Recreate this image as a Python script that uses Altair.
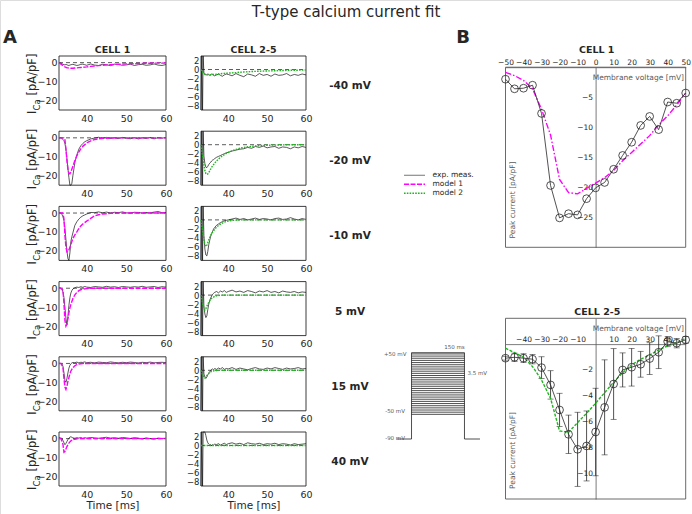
import altair as alt
import pandas as pd

W, H = 692, 514
FONT = "DejaVu Sans"
INK = "#262626"
SOFT = "#595959"
EXP_COLOR = "#111111"
M1_COLOR = "#ff00ff"
M2_COLOR = "#1fb51f"

# ---------------------------------------------------------------- data
STEPS = ["-40 mV", "-20 mV", "-10 mV", "5 mV", "15 mV", "40 mV"]

# sampling times (ms)
EXP_T = [33, 33.5, 33.75, 34, 34.25, 34.5, 34.75, 35, 35.25, 35.5,
         35.75, 36, 36.25, 36.5, 37, 37.5, 38, 38.5, 39, 39.5,
         40, 41, 42, 43, 44, 45, 46, 47, 48, 49,
         50, 51, 52, 53, 54, 55, 56, 57, 58, 59, 60]
C25_T = [33, 33.2, 33.4, 33.55, 33.75, 34, 34.25, 34.5, 34.75, 35, 35.25,
         35.5, 35.75, 36, 36.25, 36.5, 37, 37.5, 38, 38.5, 39,
         39.5, 40, 41, 42, 43, 44, 45, 46, 47, 48,
         49, 50, 51, 52, 53, 54, 55, 56, 57, 58, 59, 60]
MOD_T = [33, 33.5, 34, 34.25, 34.5, 34.75, 35, 35.25, 35.5, 35.75,
         36, 36.5, 37, 37.5, 38, 38.5, 39, 40, 41, 42,
         43, 44, 46, 48, 50, 55, 60]

# CELL 1: recorded current (pA/pF), one list per voltage step
cell1_exp = [
    [0, -0.3, -0.6, -0.9, -1.1, -1.2, -1.0, -1.1, -1.4, -1.5,
     -1.3, -1.1, -1.0, -0.9, -1.2, -1.5, -1.3, -0.9, -0.8, -1.1,
     -1.4, -0.7, -1.3, -1.5, -0.9, -1.1, -1.6, -0.8, -1.0, -1.4,
     -1.2, -0.8, -1.5, -1.1, -0.9, -1.4, -1.2, -0.7, -1.3, -1.5, -1.0],
    [0, 0, -0.3, -0.8, -1.5, -3.0, -6.0, -11.0, -16.0, -21.0,
     -25.0, -26.5, -24.0, -20.0, -13.0, -9.0, -6.0, -4.2, -3.0, -2.1,
     -1.5, -0.6, -0.1, 0.3, -0.2, 0.2, -0.3, 0.1, -0.4, 0.2,
     -0.2, -0.5, 0.1, -0.6, 0.0, -0.3, 0.2, -0.5, 0.1, -0.2, 0.2],
    [0.2, 0.0, -0.8, -2.0, -4.0, -8.0, -14.0, -20.0, -24.0, -25.5,
     -21.0, -15.0, -12.5, -10.5, -6.5, -4.6, -3.2, -2.2, -1.5, -1.0,
     -0.5, 0.3, 0.2, 0.6, 0.1, 0.5, 0.0, 0.4, 0.2, 0.6,
     0.1, 0.0, 0.4, 0.3, 0.0, 0.3, 0.1, 0.5, 0.8, 0.2, 0.3],
    [0.2, 0.0, -0.5, -2.0, -5.0, -10.0, -16.0, -19.3, -15.0, -9.0,
     -5.0, -2.5, -1.2, -0.4, 0.3, 0.6, 0.4, 0.8, 0.5, 0.9,
     0.6, 0.4, 0.9, 0.7, 0.5, 1.0, 0.6, 0.8, 0.4, 0.9,
     0.7, 0.5, 0.8, 0.6, 1.0, 0.5, 0.7, 0.9, 0.4, 0.8, 0.6],
    [0.0, 0.0, -0.3, -1.5, -5.0, -9.0, -10.0, -8.0, -5.0, -2.5,
     -1.0, -0.2, 0.3, 0.5, 0.4, 0.7, 0.3, 0.6, 0.5, 0.8,
     0.4, 0.6, 0.3, 0.7, 0.5, 0.4, 0.8, 0.5, 0.3, 0.6,
     0.4, 0.7, 0.5, 0.2, 0.6, 0.4, 0.7, 0.3, 0.5, 0.6, 0.4],
    [0.5, 0.3, 0.1, -1.0, -2.2, -3.2, -2.5, -1.5, -0.5, 0.3,
     0.8, 1.0, 0.7, 0.4, 0.2, 0.5, 0.3, 0.6, 0.2, 0.5,
     0.3, 0.6, 0.4, 0.2, 0.5, 0.7, 0.3, 0.5, 0.2, 0.6,
     0.4, 0.1, 0.5, 0.3, -0.2, 0.4, 0.0, -0.3, 0.3, 0.1, 0.2],
]

# CELL 1: model 1 current
cell1_model1 = [
    [0, -0.8, -1.6, -2.0, -2.3, -2.5, -2.7, -2.8, -2.9, -2.95,
     -3.0, -2.95, -2.85, -2.75, -2.65, -2.55, -2.45, -2.25, -2.0, -1.8,
     -1.6, -1.4, -1.1, -0.85, -0.65, -0.35, -0.2],
    [0, 0, 0, 0, -1.0, -6.0, -12.0, -16.5, -18.8, -19.0,
     -18.0, -15.0, -12.0, -9.5, -7.5, -5.8, -4.5, -2.7, -1.6, -0.9,
     -0.5, -0.3, -0.1, 0, 0, 0, 0],
    [0, 0, 0, -3.0, -12.0, -18.0, -20.5, -20.3, -19.5, -18.0,
     -16.5, -13.5, -11.5, -10.0, -8.3, -6.8, -5.8, -4.3, -2.8, -1.5,
     -0.9, -0.5, -0.2, -0.05, 0, 0, 0],
    [0, 0, -1.0, -8.0, -17.0, -20.0, -19.0, -16.0, -13.0, -10.5,
     -8.5, -5.5, -3.5, -2.2, -1.3, -0.8, -0.5, -0.2, -0.05, 0,
     0, 0, 0, 0, 0, 0, 0],
    [0, 0, -2.0, -8.0, -12.5, -13.7, -12.0, -9.5, -7.5, -5.5,
     -4.0, -2.2, -1.2, -0.6, -0.3, -0.15, -0.05, 0, 0, 0,
     0, 0, 0, 0, 0, 0, 0],
    [0, 0, -3.0, -7.2, -6.8, -5.5, -4.2, -3.2, -2.4, -1.7,
     -1.2, -0.6, -0.3, -0.1, 0, 0, 0, 0, 0, 0,
     0, 0, 0, 0, 0, 0, 0],
]

# CELL 2-5: averaged recorded current (starts with the capacitive artefact)
cell25_exp = [
    [-20, 20, -20, 20, -0.8, -1.0, -1.1, -1.2, -1.0, -1.1, -1.3,
     -1.2, -1.0, -1.1, -1.3, -1.4, -1.2, -1.0, -1.3, -1.5, -1.2,
     -1.0, -1.1, -1.4, -0.9, -1.3, -1.6, -1.0, -1.2, -1.5, -0.9,
     -1.3, -1.1, -1.5, -1.0, -1.3, -1.2, -0.9, -1.4, -1.1, -1.3, -1.0, -1.2],
    [-20, 20, -20, 20, -2.5, -4.2, -5.0, -5.1, -4.8, -4.4, -4.1,
     -3.9, -3.6, -3.4, -3.3, -3.1, -2.8, -2.6, -2.4, -2.2, -2.0,
     -1.8, -1.7, -1.4, -1.2, -1.0, -0.9, -0.6, -0.8, -0.4, -0.6,
     -0.3, -0.7, -0.5, -0.4, -0.8, -0.5, -0.6, -0.9, -0.5, -0.7, -0.4, -0.6],
    [-20, 20, -20, 20, -3.5, -6.5, -7.8, -8.0, -7.0, -5.5, -4.5,
     -3.6, -3.0, -2.5, -2.0, -1.7, -1.2, -0.9, -0.6, -0.4, -0.2,
     -0.1, 0.0, 0.2, 0.4, 0.1, 0.3, 0.0, 0.2, 0.4, 0.1,
     0.3, 0.2, 0.0, 0.3, 0.4, 0.1, 0.2, 0.5, 0.2, 0.0, 0.3, 0.1],
    [-20, 20, -20, 20, -2.5, -4.2, -5.0, -4.6, -3.2, -2.0, -1.2,
     -0.6, -0.2, 0.2, 0.4, 0.6, 0.8, 0.5, 0.9, 0.7, 1.0,
     0.6, 0.8, 1.1, 0.7, 0.9, 0.6, 1.0, 0.8, 0.5, 0.9,
     0.7, 1.0, 0.6, 0.8, 0.5, 0.9, 0.7, 0.6, 0.8, 0.5, 0.7, 0.6],
    [-20, 20, -20, 20, -0.8, -1.5, -1.8, -1.5, -1.0, -0.6, -0.3,
     0.0, 0.2, 0.3, 0.1, 0.4, 0.2, 0.5, 0.3, 0.6, 0.2,
     0.4, 0.3, 0.6, 0.2, 0.5, 0.3, 0.1, 0.4, 0.6, 0.3,
     0.2, 0.5, 0.3, 0.6, 0.4, 0.2, 0.5, 0.3, 0.4, 0.6, 0.3, 0.4],
    [-20, 20, -20, 20, 4.5, 3.2, 2.2, 1.2, 0.6, 0.3, 0.1,
     0.2, 0.0, 0.2, 0.1, 0.3, 0.2, 0.4, 0.1, 0.3, 0.5,
     0.2, 0.4, 0.6, 0.3, 0.5, 0.2, 0.6, 0.4, 0.3, 0.5,
     0.2, 0.4, 0.3, 0.5, 0.2, 0.4, 0.3, 0.1, 0.4, 0.2, 0.3, 0.4],
]

# CELL 2-5: model 2 current
cell25_model2 = [
    [0, -0.7, -1.1, -1.2, -1.2, -1.2, -1.2, -1.2, -1.15, -1.15,
     -1.1, -1.1, -1.05, -1.0, -0.95, -0.9, -0.85, -0.8, -0.75, -0.7,
     -0.6, -0.55, -0.45, -0.38, -0.32, -0.2, -0.12],
    [0, -3.0, -5.8, -6.4, -6.6, -6.5, -6.2, -5.8, -5.4, -5.0,
     -4.7, -4.1, -3.6, -3.2, -2.8, -2.5, -2.2, -1.7, -1.35, -1.05,
     -0.8, -0.6, -0.35, -0.2, -0.12, -0.03, 0],
    [0, -3.0, -5.6, -5.9, -5.6, -5.0, -4.4, -3.9, -3.4, -3.0,
     -2.7, -2.1, -1.6, -1.25, -0.95, -0.7, -0.5, -0.25, -0.12, -0.05,
     0, 0, 0, 0, 0, 0, 0],
    [0, -2.2, -3.3, -3.0, -2.5, -2.0, -1.6, -1.25, -0.95, -0.7,
     -0.55, -0.3, -0.15, -0.08, -0.03, 0, 0, 0, 0, 0,
     0, 0, 0, 0, 0, 0, 0],
    [0, -1.2, -1.7, -1.5, -1.2, -0.9, -0.7, -0.5, -0.35, -0.25,
     -0.18, -0.08, -0.03, 0, 0, 0, 0, 0, 0, 0,
     0, 0, 0, 0, 0, 0, 0],
    [0, 0, 0, 0, 0, 0, 0, 0, 0, 0,
     0, 0, 0, 0, 0, 0, 0, 0, 0, 0,
     0, 0, 0, 0, 0, 0, 0],
]

# B: peak current-voltage relations
iv_v = [-50, -45, -40, -35, -30, -25, -20, -15, -10, -5, 0,
        5, 10, 15, 20, 25, 30, 35, 40, 45, 50]
iv_cell1_exp = [-2.0, -3.6, -3.5, -3.0, -7.7, -19.7, -25.1, -24.4, -24.6, -21.9, -20.1,
                -19.2, -17.0, -14.7, -12.5, -9.7, -8.2, -10.4, -5.8, -6.0, -4.3]
iv_cell1_model1 = [-0.85, -1.4, -2.2, -3.6, -7.0, -11.3, -18.7, -20.9, -21.1, -20.2, -19.3,
                   -18.4, -17.2, -15.6, -14.2, -12.8, -11.4, -9.6, -8.1, -6.3, -4.3]
iv_cell25_exp = [-1.09, -1.02, -1.09, -1.17, -1.82, -3.16, -5.1, -6.99, -8.15, -7.89, -6.81,
                 -4.9, -3.09, -2.0, -1.79, -1.56, -1.12, -0.63, 0.19, 0.07, 0.33]
iv_cell25_sd = [0.15, 0.32, 0.34, 0.36, 0.84, 1.1, 1.29, 1.49, 2.87, 2.71, 3.39,
                3.68, 2.74, 1.32, 1.46, 1.0, 1.23, 1.27, 0.39, 0.36, 0.26]
iv_cell25_model2 = [-0.32, -0.66, -1.02, -1.74, -2.78, -4.2, -6.73, -6.83, -6.08, -5.36, -4.58,
                    -3.76, -2.95, -2.21, -1.61, -1.17, -0.84, -0.45, -0.14, 0.12, 0.46]

# voltage-clamp protocol
stim_levels = [-50, -46.5, -43, -39.5, -36, -32.5, -29, -25.5, -22, -18.5,
               -15, -11.5, -8, -4.5, -1, 2.5, 6, 9.5, 13, 16.5,
               20, 23.5, 27, 30.5, 34, 37.5, 41, 44.5, 48, 50]
stim_hold = -90
stim_on, stim_off = 0, 150

for rows, t in ((cell1_exp, EXP_T), (cell1_model1, MOD_T), (cell25_exp, C25_T), (cell25_model2, MOD_T)):
    for r in rows:
        assert len(r) == len(t), (len(r), len(t))

# ---------------------------------------------------------------- layout
T_DOM = [33, 60]
C1_X = [59, 166]
C25_X = [201, 306]
ROW_TOP = [56, 131.2, 206.4, 281.6, 356.8, 432]
ROW_H = 54
C1_Y = [-25, 3.5]
C25_Y = [-9, 3]
C1_TICKS = [0, -10, -20]
C25_TICKS = [2, 0, -2, -4, -6, -8]

IV_X = [505.5, 685.7]
IV1_Y, IV1_R = [-30, 0], [247.3, 67.2]
IV2_Y, IV2_R = [-12, 2], [499.0, 318.3]

ONE = pd.DataFrame({"k": [0]})


def text(s, x, y, size, weight="normal", align="center", baseline="middle",
         angle=0, color=INK):
    kw = dict(x=x, y=y, fontSize=size, fontWeight=weight, align=align,
              baseline=baseline, font=FONT, color=color)
    if angle:
        kw["angle"] = angle
    return alt.Chart(ONE).mark_text(**kw).encode(text=alt.value(s))


def axis(orient, offset, values, size=9, title=None, pad=2, domain=False):
    kw = dict(orient=orient, offset=offset, values=values, ticks=False, grid=False,
              domain=domain, domainColor=SOFT, domainWidth=0.8,
              labelFont=FONT, labelFontSize=size, labelColor=INK,
              labelPadding=pad, labelFlush=False, labelOverlap=False)
    if title:
        kw.update(title=title, titleFont=FONT, titleFontSize=10.5,
                  titleFontWeight="normal", titleColor=INK, titlePadding=2)
    else:
        kw["title"] = None
    return alt.Axis(**kw)


def trace_panel(row, xr, ydom, yticks, ysize, exp_t, exp_i, mod_t, mod_i, mcolor, mdash):
    top = ROW_TOP[row]
    bot = top + ROW_H
    xs = alt.Scale(domain=T_DOM, range=xr, nice=False, zero=False, clamp=True)
    ys = alt.Scale(domain=ydom, range=[bot, top], nice=False, zero=False, clamp=True)
    xa = axis("bottom", bot - H, [40, 50, 60], size=9.5, pad=3,
              title="Time [ms]" if row == len(ROW_TOP) - 1 else None)
    ya = axis("left", -xr[0], yticks, size=ysize)

    def enc(chart, tf="t", yf="i"):
        return chart.encode(x=alt.X(f"{tf}:Q", scale=xs, axis=xa),
                            y=alt.Y(f"{yf}:Q", scale=ys, axis=ya))

    frame = alt.Chart(pd.DataFrame({"t": [T_DOM[0]], "t2": [T_DOM[1]],
                                    "i": [ydom[0]], "i2": [ydom[1]]})).mark_rect(
        filled=False, stroke=INK, strokeWidth=0.9)
    frame = enc(frame).encode(x2="t2:Q", y2="i2:Q")
    zero = enc(alt.Chart(pd.DataFrame({"t": T_DOM, "i": [0, 0]})).mark_line(
        color="#333333", strokeWidth=0.8, strokeDash=[4, 3]))
    exp = enc(alt.Chart(pd.DataFrame({"t": exp_t, "i": exp_i})).mark_line(
        color=EXP_COLOR, strokeWidth=0.7))
    mod = enc(alt.Chart(pd.DataFrame({"t": mod_t, "i": mod_i})).mark_line(
        color=mcolor, strokeWidth=1.4, strokeDash=mdash))
    return alt.layer(frame, zero, exp, mod)


def iv_panel(ydom, yr, xticks, yticks, exp_i, mod_i, mcolor, mdash, sd=None):
    xs = alt.Scale(domain=[-50, 50], range=IV_X, nice=False, zero=False)
    ys = alt.Scale(domain=ydom, range=yr, nice=False, zero=False)
    x0 = IV_X[0] + (0 - (-50)) / 100 * (IV_X[1] - IV_X[0])
    y0 = yr[0] + (0 - ydom[0]) / (ydom[1] - ydom[0]) * (yr[1] - yr[0])
    xa = axis("top", -y0, xticks, size=7.5, domain=True, pad=1)
    ya = axis("left", -x0, yticks, size=7.5, domain=True, pad=3)

    def enc(chart, yf="i"):
        return chart.encode(x=alt.X("v:Q", scale=xs, axis=xa),
                            y=alt.Y(f"{yf}:Q", scale=ys, axis=ya))

    frame = alt.Chart(pd.DataFrame({"v": [-50], "v2": [50],
                                    "i": [ydom[0]], "i2": [ydom[1]]})).mark_rect(
        filled=False, stroke=SOFT, strokeWidth=0.9)
    frame = enc(frame).encode(x2="v2:Q", y2="i2:Q")
    df = pd.DataFrame({"v": iv_v, "i": exp_i, "m": mod_i})
    layers = [frame]
    if sd is not None:
        df["lo"] = [a - b for a, b in zip(exp_i, sd)]
        df["hi"] = [a + b for a, b in zip(exp_i, sd)]
        base = alt.Chart(df)
        layers.append(enc(base.mark_rule(color=INK, strokeWidth=0.8), "lo").encode(y2="hi:Q"))
        layers.append(enc(base.mark_tick(orient="horizontal", size=6, thickness=0.8, color=INK), "lo"))
        layers.append(enc(base.mark_tick(orient="horizontal", size=6, thickness=0.8, color=INK), "hi"))
    base = alt.Chart(df)
    layers.append(enc(base.mark_line(color=mcolor, strokeWidth=1.4, strokeDash=mdash), "m"))
    layers.append(enc(base.mark_line(color=INK, strokeWidth=0.8)))
    layers.append(enc(base.mark_point(shape="circle", filled=False, size=60,
                                      color=INK, strokeWidth=0.8, opacity=1)))
    return alt.layer(*layers)


def stimulus():
    xs = alt.Scale(domain=[-42, 194], range=[396.7, 480], nice=False, zero=False)
    ys = alt.Scale(domain=[-90, 50], range=[439.0, 352.7], nice=False, zero=False)
    st = dict(color="#222222", strokeWidth=0.8)
    lv = alt.Chart(pd.DataFrame({"v": stim_levels, "a": stim_on, "b": stim_off})).mark_rule(**st).encode(
        x=alt.X("a:Q", scale=xs, axis=None), x2="b:Q", y=alt.Y("v:Q", scale=ys, axis=None))
    walls = alt.Chart(pd.DataFrame({"t": [stim_on, stim_off], "lo": stim_hold,
                                    "hi": max(stim_levels)})).mark_rule(**st).encode(
        x=alt.X("t:Q", scale=xs, axis=None), y=alt.Y("lo:Q", scale=ys, axis=None), y2="hi:Q")
    hold = alt.Chart(pd.DataFrame({"a": [-42, stim_off], "b": [stim_on, 194],
                                   "v": stim_hold})).mark_rule(**st).encode(
        x=alt.X("a:Q", scale=xs, axis=None), x2="b:Q", y=alt.Y("v:Q", scale=ys, axis=None))
    return alt.layer(lv, walls, hold)


layers = []

# A: traces
for r in range(6):
    layers.append(trace_panel(r, C1_X, C1_Y, C1_TICKS, 9.5, EXP_T, cell1_exp[r],
                              MOD_T, cell1_model1[r], M1_COLOR, [5, 1.5]))
    layers.append(trace_panel(r, C25_X, C25_Y, C25_TICKS, 8.5, C25_T, cell25_exp[r],
                              MOD_T, cell25_model2[r], M2_COLOR, [1.6, 1.2]))
    mid = ROW_TOP[r] + ROW_H / 2
    layers.append(text(STEPS[r], 350, mid + 3, 10.5, weight="bold"))
    # I_Ca [pA/pF] written bottom-to-top with a subscript
    y_start = mid + 31
    layers.append(text("I", 33, y_start, 11.5, align="left", angle=270))
    layers.append(text("Ca", 36.5, y_start - 3.6, 8.5, align="left", angle=270))
    layers.append(text("[pA/pF]", 33, y_start - 18.5, 11.5, align="left", angle=270))

# B: IV curves
layers.append(iv_panel(IV1_Y, IV1_R, list(range(-50, 51, 10)), [-5, -10, -15, -20, -25],
                       iv_cell1_exp, iv_cell1_model1, M1_COLOR, [6, 2, 1.5, 2]))
layers.append(iv_panel(IV2_Y, IV2_R, [-40, -30, -20, -10, 10, 20, 30, 40],
                       [-2, -4, -6, -8, -10], iv_cell25_exp, iv_cell25_model2,
                       M2_COLOR, [3, 1.5], sd=iv_cell25_sd))
for yy, yc in ((77.7, 200), (329.3, 450.5)):
    layers.append(text("Membrane voltage [mV]", 684, yy, 7.5, align="right", color=SOFT))
    layers.append(text("Peak current [pA/pF]", 513.3, yc, 7.5, angle=270, color=SOFT))

# protocol sketch
layers.append(stimulus())
for s, x, y, al in (("+50 mV", 406.5, 354, "right"), ("-50 mV", 405, 411, "right"),
                    ("-90 mV", 405, 438, "right"), ("150 ms", 454.5, 347, "center"),
                    ("3.5 mV", 467.5, 372.7, "left")):
    layers.append(text(s, x, y, 5.5, align=al, color=SOFT))

# legend
for lab, y, col, dash, sw in (("exp. meas.", 175.3, "#8c8c8c", None, 1.2),
                              ("model 1", 184.3, M1_COLOR, [5, 1.5], 1.4),
                              ("model 2", 193.3, M2_COLOR, [1.6, 1.2], 1.4)):
    mk = dict(color=col, strokeWidth=sw)
    if dash:
        mk["strokeDash"] = dash
    layers.append(alt.Chart(ONE).mark_rule(**mk).encode(
        x=alt.value(404), x2=alt.value(425), y=alt.value(y)))
    layers.append(text(lab, 432.5, y, 7.5, align="left", color=INK))

# titles
layers.append(text("T-type calcium current fit", 346, 12, 15))
layers.append(text("A", 10, 38, 18, weight="bold"))
layers.append(text("B", 463, 38, 18, weight="bold"))
layers.append(text("CELL 1", 112.5, 50, 9.5, weight="bold"))
layers.append(text("CELL 2-5", 253.5, 50, 9.5, weight="bold"))
layers.append(text("CELL 1", 596.7, 50, 9.5, weight="bold"))
layers.append(text("CELL 2-5", 597.3, 312.3, 9.5, weight="bold"))

chart = (
    alt.layer(*layers)
    .resolve_scale(x="independent", y="independent")
    .resolve_axis(x="independent", y="independent")
    .properties(width=W, height=H, padding=0,
                autosize=alt.AutoSizeParams(type="none"))
    .configure_view(strokeWidth=0)
    .configure(background="white")
)

chart.save("out.html", embed_options={"renderer": "svg", "actions": False})
